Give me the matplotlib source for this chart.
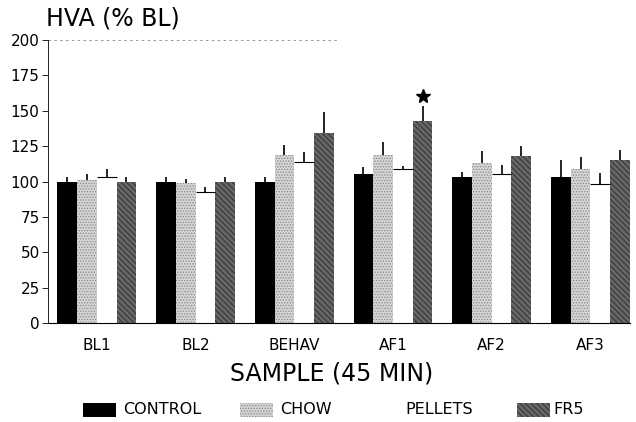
import numpy as np
import matplotlib
matplotlib.use("Agg")
import matplotlib.pyplot as plt
from matplotlib.patches import Rectangle

plt.rcParams['font.family'] = ['DejaVu Sans']
plt.rcParams['hatch.linewidth'] = 0.6

samples = ["BL1", "BL2", "BEHAV", "AF1", "AF2", "AF3"]
groups = ["CONTROL", "CHOW", "PELLETS", "FR5"]

control = [100, 100, 100, 105, 103, 103]
chow = [101, 99, 119, 119, 113, 109]
pellets = [103.5, 92.5, 113.5, 109, 105, 98]
fr5 = [100, 100, 134, 143, 118, 115]

control_err = [3, 3, 3, 5, 4, 12]
chow_err = [4, 3, 6.5, 9, 8.5, 8]
pellets_err = [5.5, 3.3, 7.5, 2, 7, 8]
fr5_err = [3, 3, 15, 10.5, 7, 7]

star_sample = "AF1"

values = [control, chow, pellets, fr5]
errors = [control_err, chow_err, pellets_err, fr5_err]
faces = ["black", "#d4d4d4", "white", "#666666"]
hatches = [None, "......", None, "\\\\\\\\\\\\"]
hatch_cols = ["black", "#8a8a8a", "white", "#2a2a2a"]

fig = plt.figure(figsize=(6.36, 4.22), dpi=100)
ax = fig.add_axes([0.0755, 0.2346, 0.915, 0.6706])

x = np.arange(len(samples))
w = 0.2
offs = (np.arange(4) - 1.5) * w

for i in range(4):
    xs = x + offs[i]
    ax.bar(xs, values[i], w, color=faces[i], edgecolor=hatch_cols[i],
           hatch=hatches[i], linewidth=0)
    if i == 2:
        ax.hlines(values[i], xs - w / 2, xs + w / 2, color="black", lw=0.8)
    tops = np.array(values[i])
    ax.vlines(xs, tops, tops + np.array(errors[i]), color="black", lw=1.2)

k = samples.index(star_sample)
ax.plot(x[k] + offs[3], fr5[k] + fr5_err[k] + 7, marker="*", color="black",
        markersize=10, clip_on=False)

ax.set_xlim(-0.494, 5.4)
ax.set_ylim(0, 200)
ax.set_yticks(np.arange(0, 201, 25))
ax.set_xticks(x)
ax.set_xticklabels(samples, fontsize=11)
ax.tick_params(axis="x", length=0, pad=11)
ax.tick_params(axis="y", length=4, width=0.6, labelsize=11, pad=2)
for s in ["top", "right"]:
    ax.spines[s].set_visible(False)
ax.spines["left"].set_linewidth(0.6)
ax.spines["bottom"].set_linewidth(0.8)
ax.axhline(200, color="#888888", lw=0.6, ls=(0, (3, 4)), xmax=0.5)

fig.text(0.072, 0.928, "HVA (% BL)", fontsize=17, ha="left", va="bottom")
fig.text(0.522, 0.116, "SAMPLE (45 MIN)", fontsize=17, ha="center", va="center")

# legend drawn by hand, positions in figure pixels
patch_x = [83, 240, 366, 517]
text_x = [123, 280, 405, 553]
for i in range(4):
    fig.add_artist(Rectangle((patch_x[i] / 636, 1 - 417 / 422), 33 / 636, 14 / 422,
                             transform=fig.transFigure, facecolor=faces[i],
                             edgecolor=hatch_cols[i], hatch=hatches[i], linewidth=0))
    fig.text(text_x[i] / 636, 1 - 410 / 422, groups[i], fontsize=11.5,
             ha="left", va="center")

fig.savefig("out.png", dpi=100)
